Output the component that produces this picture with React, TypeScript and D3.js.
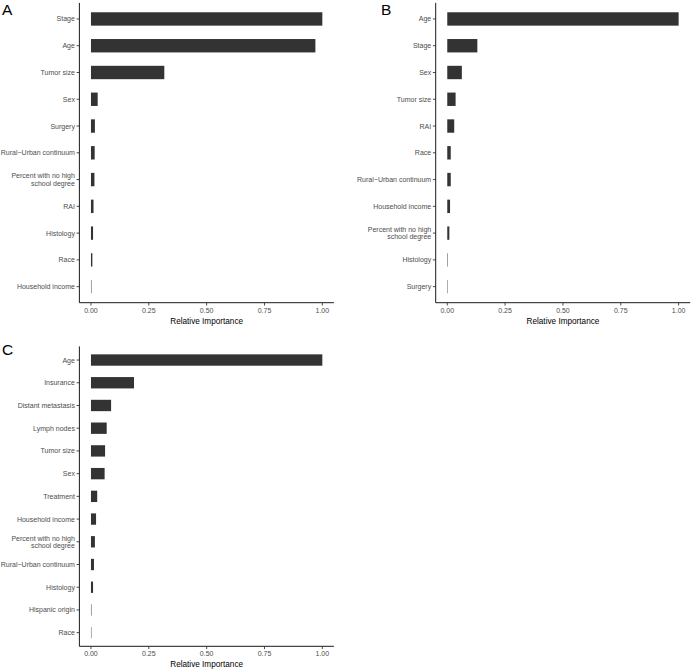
import React from "react";
import * as d3 from "d3";

const catsA = ["Stage", "Age", "Tumor size", "Sex", "Surgery", "Rural\u2212Urban continuum", "Percent with no high\nschool degree", "RAI", "Histology", "Race", "Household income"];
const valsA = [1.0, 0.97, 0.317, 0.029, 0.017, 0.016, 0.015, 0.011, 0.009, 0.006, 0.002];

const catsB = ["Age", "Stage", "Sex", "Tumor size", "RAI", "Race", "Rural\u2212Urban continuum", "Household income", "Percent with no high\nschool degree", "Histology", "Surgery"];
const valsB = [1.0, 0.13, 0.063, 0.036, 0.03, 0.015, 0.015, 0.012, 0.009, 0.002, 0.001];

const catsC = ["Age", "Insurance", "Distant metastasis", "Lymph nodes", "Tumor size", "Sex", "Treatment", "Household income", "Percent with no high\nschool degree", "Rural\u2212Urban continuum", "Histology", "Hispanic origin", "Race"];
const valsC = [1.0, 0.186, 0.087, 0.068, 0.061, 0.059, 0.027, 0.022, 0.017, 0.013, 0.009, 0.002, 0.001];

const xTicks = [0, 0.25, 0.5, 0.75, 1.0];
const xTitle = "Relative Importance";

const FONT = "'Liberation Sans', Arial, Helvetica, sans-serif";

type PanelProps = {
  letter: string;
  letterX: number;
  letterY: number;
  cats: string[];
  vals: number[];
  x0: number;
  x1: number;
  y0: number;
  y1: number;
};

function Panel({ letter, letterX, letterY, cats, vals, x0, x1, y0, y1 }: PanelProps) {
  const x = d3.scaleLinear().domain([-0.05, 1.05]).range([x0, x1]);
  const y = d3.scalePoint<string>().domain(cats).range([y0, y1]).padding(0.6);
  const step = y.step();
  const bh = step * 0.5;
  return (
    <g>
      <text x={letterX} y={letterY} fontSize={15.5} fontFamily={FONT} fill="#000">{letter}</text>
      {cats.map((c, i) => (
        <rect key={c} x={x(0)} y={(y(c) as number) - bh / 2} width={Math.max(x(vals[i]) - x(0), 0.4)} height={bh} fill="#333333" />
      ))}
      {/* y axis */}
      <line x1={x0} x2={x0} y1={y0} y2={y1} stroke="#000" strokeWidth={0.9} />
      {cats.map((c) => {
        const cy = y(c) as number;
        const lines = c.split("\n");
        return (
          <g key={"t" + c}>
            <line x1={x0 - 2.8} x2={x0} y1={cy} y2={cy} stroke="#333" strokeWidth={0.9} />
            {lines.map((ln, j) => (
              <text key={j} x={x0 - 4.5} y={cy + 2.5 + (j - (lines.length - 1) / 2) * 7.3} fontSize={7} fontFamily={FONT} fill="#4d4d4d" textAnchor="end">{ln}</text>
            ))}
          </g>
        );
      })}
      {/* x axis */}
      <line x1={x0} x2={x1} y1={y1} y2={y1} stroke="#000" strokeWidth={0.9} />
      {xTicks.map((t) => (
        <g key={"x" + t}>
          <line x1={x(t)} x2={x(t)} y1={y1} y2={y1 + 2.8} stroke="#333" strokeWidth={0.9} />
          <text x={x(t)} y={y1 + 9.8} fontSize={7} fontFamily={FONT} fill="#4d4d4d" textAnchor="middle">{d3.format(".2f")(t)}</text>
        </g>
      ))}
      <text x={(x0 + x1) / 2} y={y1 + 21} fontSize={8.2} fontFamily={FONT} fill="#000" textAnchor="middle">{xTitle}</text>
    </g>
  );
}

export default function App() {
  return (
    <svg width={693} height={670} style={{ position: "absolute", left: 0, top: 0, background: "#fff" }}>
      <rect x={0} y={0} width={693} height={670} fill="#fff" />
      <Panel letter="A" letterX={2} letterY={15} cats={catsA} vals={valsA} x0={79.4} x1={333.9} y0={2.9} y1={302.7} />
      <Panel letter="B" letterX={381} letterY={15} cats={catsB} vals={valsB} x0={435.7} x1={690.2} y0={2.9} y1={302.7} />
      <Panel letter="C" letterX={2} letterY={355} cats={catsC} vals={valsC} x0={79.4} x1={333.9} y0={346.4} y1={646.3} />
    </svg>
  );
}
